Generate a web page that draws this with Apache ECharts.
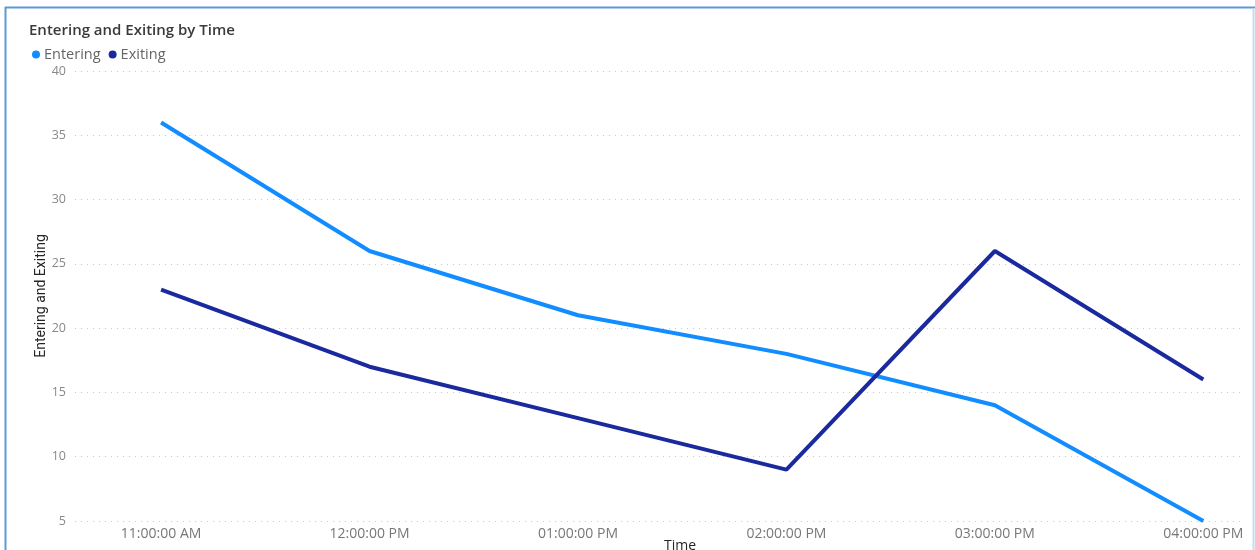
<!DOCTYPE html>
<html>
<head>
<meta charset="utf-8">
<style>
html,body{margin:0;padding:0;background:#fff;overflow:hidden;}
#c{width:1255px;height:550px;}
</style>
<script src="https://cdn.jsdelivr.net/npm/echarts@6/dist/echarts.min.js"></script>
</head>
<body>
<div id="c"></div>
<script>
const categories = ['11:00:00 AM','12:00:00 PM','01:00:00 PM','02:00:00 PM','03:00:00 PM','04:00:00 PM'];
const entering = [36, 26, 21, 18, 14, 5];
const exiting = [23, 17, 13, 9, 26, 16];
const yTicks = [5, 10, 15, 20, 25, 30, 35, 40];

const chart = echarts.init(document.getElementById('c'));
const idx = categories.map((_, i) => i);
chart.setOption({
  animation: false,
  title: {
    text: 'Entering and Exiting by Time',
    left: 24, top: 18,
    textStyle: {fontFamily: 'Open Sans', fontSize: 15, fontWeight: 600, color: '#3a3a3a'}
  },
  legend: {
    left: 27, top: 42,
    icon: 'circle', itemWidth: 8, itemHeight: 8, itemGap: 8,
    textStyle: {fontFamily: 'Open Sans', fontSize: 14.5, color: '#666', padding: [0,0,0,-1]},
    data: ['Entering', 'Exiting']
  },
  grid: {left: 75, right: 10, top: 71, bottom: 29, containLabel: false, outerBoundsMode: 'none'},
  xAxis: {
    type: 'value',
    min: -0.413, max: 5.2,
    name: 'Time', nameLocation: 'middle', nameGap: 18, nameMoveOverlap: false,
    nameTextStyle: {fontFamily: 'Open Sans', fontSize: 14, color: '#252525', padding: [0,0,0,40]},
    axisLine: {show: false}, axisTick: {show: false}, splitLine: {show: false},
    axisLabel: {
      customValues: idx,
      formatter: v => categories[Math.round(v)] || '',
      fontFamily: 'Open Sans', fontSize: 14, color: '#777', margin: 6
    }
  },
  yAxis: {
    type: 'value', min: yTicks[0], max: yTicks[yTicks.length-1], interval: 5,
    name: 'Entering and Exiting', nameLocation: 'middle', nameGap: 27, nameMoveOverlap: false,
    nameTextStyle: {fontFamily: 'Liberation Sans Narrow, Roboto', fontSize: 14, color: '#252525'},
    axisLine: {show: false}, axisTick: {show: false},
    axisLabel: {fontFamily: 'Open Sans', fontSize: 12.5, color: '#888', margin: 9},
    splitLine: {lineStyle: {type: [1, 5], color: '#c8c8c8', width: 1}}
  },
  series: [
    {name: 'Entering', type: 'line', data: entering.map((v,i)=>[i,v]), symbol: 'none',
     color: '#118DFF', lineStyle: {width: 4, color: '#118DFF'}},
    {name: 'Exiting', type: 'line', data: exiting.map((v,i)=>[i,v]), symbol: 'none',
     color: '#1A2A9E', lineStyle: {width: 4, color: '#1A2A9E'}}
  ],
  graphic: [
    {type: 'line', shape: {x1: 5.5, y1: 7, x2: 5.5, y2: 550}, style: {stroke: '#5b9bd5', lineWidth: 2}},
    {type: 'line', shape: {x1: 5, y1: 7.5, x2: 1255, y2: 7.5}, style: {stroke: '#5b9bd5', lineWidth: 2}},
    {type: 'line', shape: {x1: 1253.5, y1: 8, x2: 1253.5, y2: 550}, style: {stroke: '#c5dcf0', lineWidth: 2}}
  ]
});
</script>
</body>
</html>
